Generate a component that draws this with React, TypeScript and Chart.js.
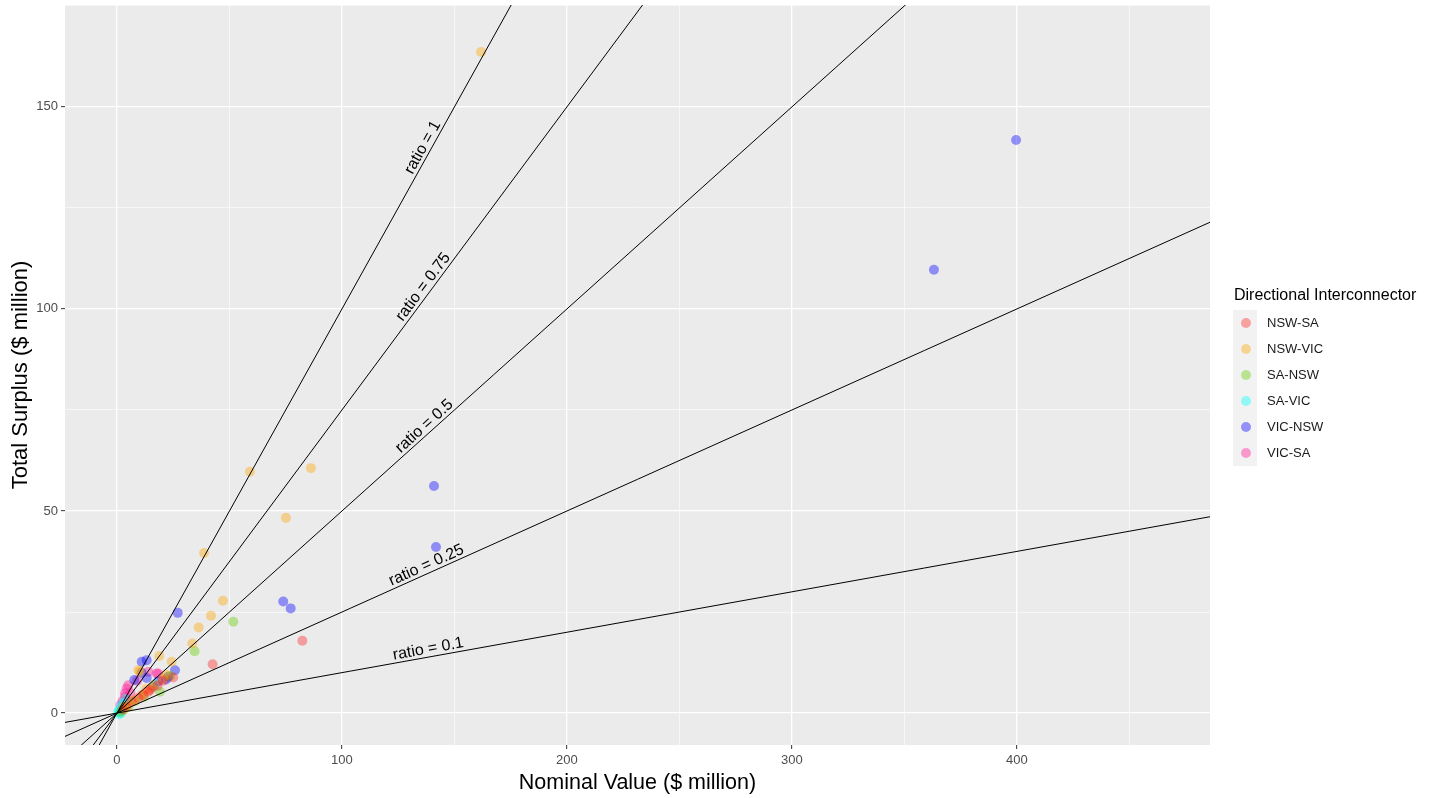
import React, { useEffect, useRef } from "react";
import { Chart, registerables } from "chart.js";

Chart.register(...registerables);

// ---- data ----
const seriesNames = ["NSW-SA", "NSW-VIC", "SA-NSW", "SA-VIC", "VIC-NSW", "VIC-SA"];
const seriesColors = [
  "rgba(255,30,30,0.38)",
  "rgba(255,165,0,0.4)",
  "rgba(102,205,0,0.4)",
  "rgba(0,255,255,0.4)",
  "rgba(0,0,255,0.4)",
  "rgba(255,20,147,0.4)",
];

const nswSaX = [82.4, 42.5, 25.0, 14.7, 11.7, 9.5, 13.9, 18.0, 6.5, 4.0, 20.5, 2.5];
const nswSaY = [17.9, 12.1, 8.8, 5.7, 4.5, 3.7, 5.3, 6.8, 2.8, 1.5, 8.0, 0.8];

const nswVicX = [161.8, 59.1, 86.2, 75.1, 38.7, 47.1, 41.8, 36.3, 33.5, 18.8, 24.3, 10.2, 9.5, 15.4, 11.0, 7.3, 16.5, 13.0, 20.5, 5.0, 3.0, 22.0];
const nswVicY = [163.6, 59.7, 60.6, 48.3, 39.6, 27.8, 24.1, 21.2, 17.2, 14.1, 12.7, 10.2, 10.6, 6.1, 4.5, 3.2, 7.0, 6.0, 8.5, 2.0, 1.5, 9.5];

const saNswX = [51.7, 34.5, 19.1, 23.6, 8.0, 3.0, 1.5, 12.0, 5.0];
const saNswY = [22.6, 15.3, 5.3, 9.2, 3.0, 0.8, 0.2, 4.0, 1.5];

const saVicX = [16.9, 2.1, 1.5, 0.8, 3.0, 1.0, 2.5, 0.5, 4.0, 1.8];
const saVicY = [7.2, 2.0, 1.2, 0.5, 2.5, -0.3, 1.0, 0.2, 3.5, 0.0];

const vicNswX = [399.6, 363.1, 140.9, 141.8, 73.9, 77.2, 27.0, 13.2, 11.0, 25.8, 22.8, 7.7, 18.4, 13.2, 21.8, 16.0, 10.9];
const vicNswY = [141.8, 109.7, 56.2, 41.1, 27.6, 25.9, 24.8, 13.1, 12.7, 10.6, 9.0, 8.2, 7.9, 8.7, 8.3, 6.5, 10.0];

const vicSaX = [17.6, 13.9, 4.3, 3.6, 5.0, 3.6, 2.5, 6.0, 1.5, 9.0, 18.3];
const vicSaY = [9.8, 10.2, 6.1, 4.0, 6.9, 4.9, 3.0, 5.0, 2.0, 8.0, 9.8];

const seriesX = [nswSaX, nswVicX, saNswX, saVicX, vicNswX, vicSaX];
const seriesY = [nswSaY, nswVicY, saNswY, saVicY, vicNswY, vicSaY];

const ratios = [1, 0.75, 0.5, 0.25, 0.1];
const ratioLabels = ["ratio = 1", "ratio = 0.75", "ratio = 0.5", "ratio = 0.25", "ratio = 0.1"];
const ratioLabelX = 139;
const lineXRange = [-60, 700];

const xMin = -23.1;
const xMax = 485.8;
const yMin = -7.9;
const yMax = 175.2;

const FONT = "'Liberation Sans', Arial, sans-serif";

const bgPlugin = {
  id: "panelBg",
  beforeDraw(chart: any) {
    const { ctx, chartArea } = chart;
    ctx.save();
    ctx.fillStyle = "#EBEBEB";
    ctx.fillRect(chartArea.left, chartArea.top, chartArea.right - chartArea.left, chartArea.bottom - chartArea.top);
    ctx.restore();
  },
};

const ratioLabelPlugin = {
  id: "ratioLabels",
  afterDatasetsDraw(chart: any) {
    const { ctx, scales } = chart;
    const xs = scales.x;
    const ys = scales.y;
    ctx.save();
    ctx.font = `16px ${FONT}`;
    ctx.fillStyle = "#000";
    ctx.textAlign = "center";
    ctx.textBaseline = "middle";
    ratios.forEach((r, i) => {
      const px = xs.getPixelForValue(ratioLabelX);
      const py = ys.getPixelForValue(ratioLabelX * r);
      const dx = xs.getPixelForValue(200) - xs.getPixelForValue(0);
      const dy = ys.getPixelForValue(200 * r) - ys.getPixelForValue(0);
      const ang = Math.atan2(dy, dx);
      ctx.save();
      ctx.translate(px, py);
      ctx.rotate(ang);
      ctx.fillText(ratioLabels[i], 0, -8);
      ctx.restore();
    });
    ctx.restore();
  },
};

const legendPlugin = {
  id: "customLegend",
  afterDraw(chart: any) {
    const { ctx } = chart;
    ctx.save();
    ctx.font = `16px ${FONT}`;
    ctx.fillStyle = "#000";
    ctx.textAlign = "left";
    ctx.textBaseline = "middle";
    ctx.fillText("Directional Interconnector", 1234, 296);
    const top = 310;
    const step = 26;
    ctx.fillStyle = "#F2F2F2";
    ctx.fillRect(1233, top, 24, step * seriesNames.length);
    seriesNames.forEach((name, i) => {
      const cy = top + 13 + i * step;
      ctx.beginPath();
      ctx.fillStyle = seriesColors[i];
      ctx.arc(1246, cy, 5, 0, Math.PI * 2);
      ctx.fill();
      ctx.fillStyle = "#1A1A1A";
      ctx.font = `13px ${FONT}`;
      ctx.fillText(name, 1267, cy);
    });
    ctx.restore();
  },
};

export default function App() {
  const canvasRef = useRef<HTMLCanvasElement | null>(null);

  useEffect(() => {
    if (!canvasRef.current) return;
    const scatterSets = seriesNames.map((name, i) => ({
      type: "scatter" as const,
      label: name,
      data: seriesX[i].map((x, j) => ({ x, y: seriesY[i][j] })),
      backgroundColor: seriesColors[i],
      borderWidth: 0,
      pointRadius: 5,
      pointHoverRadius: 5,
      order: 1,
    }));
    const lineSets = ratios.map((r, i) => ({
      type: "line" as const,
      label: ratioLabels[i],
      data: lineXRange.map((x) => ({ x, y: x * r })),
      borderColor: "#000",
      borderWidth: 1,
      pointRadius: 0,
      fill: false,
      order: 0,
    }));

    const isMajorX = (v: number) => Math.abs(v % 100) < 1e-6;
    const isMajorY = (v: number) => Math.abs(v % 50) < 1e-6;

    const chart = new Chart(canvasRef.current, {
      type: "scatter",
      data: { datasets: [...scatterSets, ...lineSets] as any },
      options: {
        animation: false,
        responsive: true,
        maintainAspectRatio: false,
        layout: { padding: { left: 0, right: 227, top: 5, bottom: 0 } },
        plugins: { legend: { display: false }, tooltip: { enabled: false } },
        scales: {
          x: {
            type: "linear",
            min: xMin,
            max: xMax,
            border: { display: false },
            grid: {
              color: "#FFFFFF",
              lineWidth: (c: any) => (isMajorX(c.tick.value) ? 1.3 : 0.6),
              tickColor: (c: any) => (isMajorX(c.tick.value) ? "#333333" : "rgba(0,0,0,0)"),
              tickLength: 4,
              tickWidth: 1,
            },
            ticks: {
              stepSize: 50,
              includeBounds: false,
              autoSkip: false,
              maxRotation: 0,
              padding: 4,
              color: "#4D4D4D",
              font: { family: FONT, size: 13 },
              callback: (v: any) => (isMajorX(Number(v)) ? String(v) : ""),
            },
            title: {
              display: true,
              text: "Nominal Value ($ million)",
              color: "#000",
              font: { family: FONT, size: 21.5 },
              padding: { top: 4, bottom: 2 },
            },
            afterFit: (s: any) => {
              s.height = 53;
              s.paddingLeft = 0;
              s.paddingRight = 0;
            },
          },
          y: {
            type: "linear",
            min: yMin,
            max: yMax,
            border: { display: false },
            grid: {
              color: "#FFFFFF",
              lineWidth: (c: any) => (isMajorY(c.tick.value) ? 1.3 : 0.6),
              tickColor: (c: any) => (isMajorY(c.tick.value) ? "#333333" : "rgba(0,0,0,0)"),
              tickLength: 4,
              tickWidth: 1,
            },
            ticks: {
              stepSize: 25,
              includeBounds: false,
              autoSkip: false,
              padding: 3,
              color: "#4D4D4D",
              font: { family: FONT, size: 13 },
              callback: (v: any) => (isMajorY(Number(v)) ? String(v) : ""),
            },
            title: {
              display: true,
              text: "Total Surplus ($ million)",
              color: "#000",
              font: { family: FONT, size: 22 },
              padding: { top: 8, bottom: 4 },
            },
            afterFit: (s: any) => {
              s.width = 65;
              s.paddingTop = 0;
              s.paddingBottom = 0;
            },
          },
        },
      },
      plugins: [bgPlugin, ratioLabelPlugin, legendPlugin],
    });
    return () => chart.destroy();
  }, []);

  return (
    <div style={{ position: "absolute", left: 0, top: 0, width: 1437, height: 798, background: "#FFFFFF" }}>
      <canvas ref={canvasRef} />
    </div>
  );
}
